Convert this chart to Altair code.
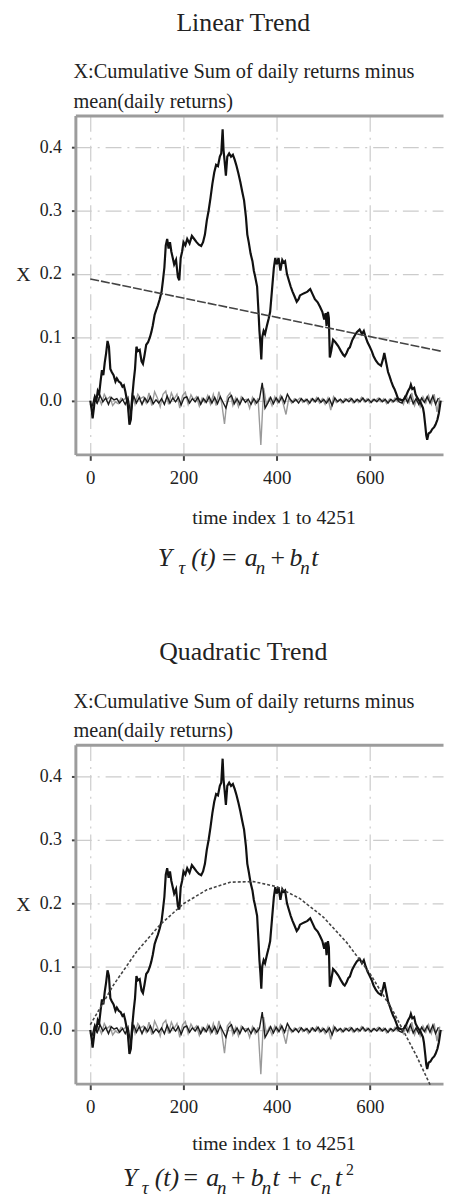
import altair as alt
import pandas as pd

# ---------------- data ----------------
main_points = [
    (0, 0.000), (3, -0.015), (5, -0.028), (8, -0.010), (10, 0.005), (13, 0.000),
    (16, 0.015), (19, 0.010), (22, 0.030), (25, 0.048), (28, 0.040), (31, 0.060),
    (34, 0.075), (37, 0.094), (40, 0.085), (43, 0.050), (46, 0.045), (50, 0.040),
    (54, 0.030), (57, 0.035), (61, 0.030), (65, 0.028), (69, 0.022), (72, 0.024),
    (75, 0.015), (78, 0.003), (81, -0.010), (84, -0.038), (87, -0.030), (90, 0.005),
    (93, 0.030), (96, 0.050), (99, 0.085), (102, 0.078), (106, 0.080), (110, 0.062),
    (113, 0.058), (116, 0.070), (120, 0.088), (124, 0.092), (128, 0.100), (131, 0.108),
    (134, 0.118), (138, 0.135), (141, 0.142), (145, 0.150), (149, 0.160), (153, 0.172),
    (156, 0.190), (159, 0.210), (162, 0.245), (165, 0.255), (168, 0.240), (171, 0.250),
    (174, 0.235), (177, 0.225), (180, 0.215), (184, 0.222), (188, 0.195), (191, 0.190),
    (194, 0.225), (197, 0.235), (200, 0.250), (204, 0.245), (208, 0.255), (213, 0.248),
    (218, 0.260), (223, 0.255), (228, 0.250), (233, 0.246), (238, 0.244), (242, 0.250),
    (246, 0.262), (250, 0.284), (254, 0.300), (258, 0.320), (262, 0.342), (266, 0.360),
    (270, 0.372), (274, 0.370), (278, 0.385), (281, 0.390), (284, 0.428), (286, 0.395),
    (288, 0.380), (291, 0.355), (294, 0.385), (298, 0.390), (302, 0.385), (306, 0.388),
    (310, 0.380), (314, 0.370), (318, 0.358), (322, 0.345), (326, 0.330), (330, 0.316),
    (334, 0.290), (337, 0.262), (340, 0.250), (344, 0.232), (348, 0.220), (351, 0.205),
    (354, 0.195), (358, 0.180), (361, 0.140), (363, 0.110), (365, 0.090), (367, 0.065),
    (369, 0.100), (372, 0.110), (375, 0.105), (379, 0.118), (383, 0.130), (386, 0.140),
    (390, 0.175), (394, 0.210), (397, 0.225), (400, 0.215), (404, 0.225), (408, 0.205),
    (412, 0.222), (415, 0.218), (418, 0.220), (422, 0.200), (426, 0.190), (430, 0.180),
    (434, 0.172), (438, 0.165), (443, 0.156), (447, 0.160), (450, 0.166), (455, 0.168),
    (461, 0.170), (466, 0.172), (472, 0.176), (477, 0.168), (482, 0.160), (488, 0.155),
    (493, 0.148), (498, 0.140), (502, 0.128), (505, 0.138), (507, 0.118), (510, 0.140),
    (512, 0.130), (514, 0.068), (517, 0.078), (521, 0.096), (526, 0.092), (532, 0.086),
    (538, 0.078), (543, 0.072), (546, 0.070), (550, 0.075), (554, 0.082), (557, 0.084),
    (562, 0.095), (567, 0.102), (572, 0.108), (578, 0.112), (583, 0.105), (587, 0.110),
    (591, 0.100), (595, 0.092), (599, 0.086), (604, 0.078), (608, 0.070), (613, 0.063),
    (618, 0.058), (624, 0.055), (628, 0.065), (631, 0.075), (635, 0.060), (639, 0.045),
    (642, 0.039), (646, 0.030), (650, 0.022), (653, 0.018), (657, 0.010), (660, 0.004),
    (663, 0.002), (667, 0.001), (670, 0.000), (674, 0.003), (678, 0.008), (682, 0.015),
    (686, 0.020), (688, 0.025), (691, 0.018), (695, 0.020), (698, 0.010), (702, 0.004),
    (706, 0.000), (710, -0.005), (714, -0.012), (716, -0.020), (719, -0.040), (721, -0.055),
    (723, -0.062), (726, -0.052), (730, -0.050), (734, -0.045), (738, -0.042), (741, -0.038),
    (745, -0.030), (748, -0.020), (752, 0.000),
]

# daily-return-like series near zero (grey, sampled every 6 index units)
noise_gray = [
    -0.005, -0.018, 0.008, 0.004, -0.006, 0.010, 0.002, 0.006, -0.008, -0.002,
    -0.005, 0.004, 0.001, 0.006, -0.030, 0.012, -0.006, 0.010, 0.003, 0.006,
    -0.004, 0.012, -0.008, 0.014, 0.004, -0.010, 0.010, 0.015, -0.006, 0.012,
    0.002, 0.010, -0.012, 0.008, 0.013, -0.006, 0.009, 0.001, 0.006, -0.009,
    0.004, -0.003, 0.008, -0.006, 0.010, -0.008, 0.014, -0.004, -0.037, 0.006,
    0.012, -0.008, 0.004, -0.010, 0.006, 0.001, 0.002, -0.012, 0.005, -0.006,
    0.004, -0.070, 0.020, -0.006, 0.004, -0.008, 0.006, -0.004, 0.008, -0.005,
    -0.022, 0.004, -0.004, 0.003, 0.000, 0.004, -0.003, 0.002, -0.006, 0.003,
    -0.002, 0.005, -0.004, 0.003, -0.006, 0.004, -0.015, 0.006, -0.003, 0.002,
    -0.004, 0.003, 0.001, 0.004, -0.004, 0.002, -0.003, 0.005, -0.002, 0.003,
    -0.004, 0.002, 0.000, 0.004, -0.002, 0.003, -0.005, 0.002, -0.003, 0.004,
    -0.002, 0.003, -0.006, 0.008, -0.004, 0.012, -0.008, 0.004, -0.010, 0.006,
    -0.004, 0.008, -0.006, 0.010, -0.018, 0.005,
]

# second near-zero series (black, sampled every 6 index units, offset 3)
noise_black = [
    -0.012, 0.006, -0.004, 0.008, -0.002, 0.004, -0.006, 0.005, 0.001, 0.003,
    -0.004, 0.002, -0.006, 0.004, -0.022, 0.008, -0.004, 0.005, -0.006, 0.004,
    -0.003, 0.006, -0.005, 0.001, -0.004, 0.003, -0.006, 0.007, -0.004, 0.004,
    -0.002, 0.005, -0.007, 0.004, 0.006, -0.004, 0.003, -0.002, 0.005, -0.006,
    0.003, -0.003, 0.006, -0.004, 0.005, -0.005, 0.006, -0.003, -0.012, 0.004,
    0.008, -0.005, 0.003, -0.006, 0.004, -0.003, 0.002, -0.006, 0.003, -0.004,
    0.002, 0.028, -0.012, -0.004, 0.005, -0.005, 0.004, -0.003, 0.006, -0.004,
    0.010, 0.002, -0.003, 0.002, -0.004, 0.003, -0.002, 0.002, -0.004, 0.003,
    -0.002, 0.004, -0.003, 0.002, -0.004, 0.003, -0.008, 0.004, -0.002, 0.002,
    -0.003, 0.002, -0.002, 0.003, -0.003, 0.002, -0.002, 0.004, -0.002, 0.002,
    -0.003, 0.002, -0.002, 0.003, -0.002, 0.002, -0.004, 0.002, -0.002, 0.003,
    -0.002, -0.004, 0.006, -0.003, 0.008, -0.005, 0.003, -0.006, 0.004, -0.003,
    0.006, -0.004, 0.007, -0.006, 0.004,
]

linear_t = [0, 752]
linear_y = [0.192, 0.078]

quad_t = [0, 50, 100, 150, 200, 250, 300, 350, 400, 450, 500, 550, 600, 650, 700, 730]
quad_y = [0.008, 0.071, 0.124, 0.166, 0.199, 0.221, 0.233, 0.234, 0.226, 0.207,
          0.178, 0.138, 0.089, 0.029, -0.041, -0.088]

x_ticks = [0, 200, 400, 600]
y_ticks = [0.0, 0.1, 0.2, 0.3, 0.4]

# ---------------- frames ----------------
main_df = pd.DataFrame(main_points, columns=["t", "v"])
gray_df = pd.DataFrame({"t": [6 * i for i in range(len(noise_gray))], "v": noise_gray})
black_df = pd.DataFrame({"t": [3 + 6 * i for i in range(len(noise_black))], "v": noise_black})
lin_df = pd.DataFrame({"t": linear_t, "v": linear_y})
quad_df = pd.DataFrame({"t": quad_t, "v": quad_y})

FONT = "Liberation Serif"
TXT = "#222222"
W, H = 371, 342
XSCALE = alt.Scale(domain=[-32, 757], nice=False, zero=False)
YSCALE = alt.Scale(domain=[-0.085, 0.45], nice=False, zero=False)


def x_bottom_axis(title_y):
    return alt.Axis(
        orient="bottom", values=x_ticks, title="time index 1 to 4251",
        titleX=200, titleY=title_y, titleAlign="center", titleBaseline="alphabetic",
        titleFont=FONT, titleFontSize=20, titleFontWeight="normal", titleColor=TXT,
        labelFont=FONT, labelFontSize=19, labelColor=TXT, labelPadding=8,
        tickSize=6, tickWidth=2, tickColor="#444444",
        domainColor="#9c9c9c", domainWidth=3,
        grid=True, gridColor="#cccccc", gridDash=[16, 6, 2, 6], gridWidth=1.2)


X_TOP = alt.Axis(
    orient="top", labels=False, ticks=False, grid=False, title=None,
    domainColor="#9c9c9c", domainWidth=3)
Y_LEFT = alt.Axis(
    orient="left", values=y_ticks, format=".1f", title="X", titleAngle=0,
    titleX=-53, titleY=161, titleAlign="center", titleBaseline="middle",
    titleFont=FONT, titleFontSize=20, titleFontWeight="normal", titleColor=TXT,
    labelFont=FONT, labelFontSize=18, labelColor=TXT, labelPadding=10,
    tickSize=4, tickWidth=2, tickColor="#444444",
    domainColor="#9c9c9c", domainWidth=3,
    grid=True, gridColor="#cccccc", gridDash=[16, 6, 2, 6], gridWidth=1.2)


def formula_layers(pieces, base):
    out = []
    for txt, px, kind in pieces:
        if kind == "sub":
            size, dy, style = 19, 8, "italic"
        elif kind == "sup":
            size, dy, style = 16, -11, "normal"
        elif kind == "op":
            size, dy, style = 26, 0, "normal"
        else:
            size, dy, style = 26, 0, "italic"
        out.append(
            alt.Chart(pd.DataFrame({"s": [txt]}))
            .mark_text(font=FONT, fontSize=size, fontStyle=style, align="left",
                       baseline="alphabetic", color=TXT)
            .encode(text="s:N", x=alt.value(px), y=alt.value(base + dy))
        )
    return out


def panel(title, trend_df, dash, pieces, fbase, xt_y):
    xb = alt.X("t:Q", scale=XSCALE, axis=x_bottom_axis(xt_y))
    xn = alt.X("t:Q", scale=XSCALE, axis=None)
    xt = alt.X("t:Q", scale=XSCALE, axis=X_TOP)
    yl = alt.Y("v:Q", scale=YSCALE, axis=Y_LEFT)

    gray = alt.Chart(gray_df).mark_line(color="#9a9a9a", strokeWidth=1.4).encode(x=xb, y=yl)
    black = alt.Chart(black_df).mark_line(color="#1a1a1a", strokeWidth=1.4).encode(x=xn, y=yl)
    main = alt.Chart(main_df).mark_line(color="#111111", strokeWidth=2.2).encode(x=xn, y=yl)
    trend = alt.Chart(trend_df).mark_line(color="#444444", strokeWidth=1.6,
                                          strokeDash=dash).encode(x=xt, y=yl)
    inner = alt.layer(gray, black, main, trend, *formula_layers(pieces, fbase)).resolve_axis(
        x="independent").properties(
        width=W, height=H,
        title=alt.Title(["X:Cumulative Sum of daily returns minus", "mean(daily returns)"],
                        anchor="start", frame="group", font=FONT, fontSize=20.5,
                        fontWeight="normal", color=TXT, lineHeight=30, offset=3, dx=-2),
    )
    return alt.vconcat(inner, title=alt.Title(title, anchor="middle", font=FONT, fontSize=26,
                                             fontWeight="normal", color=TXT, offset=27, dx=13))


pieces1 = [("Y", 83, "m"), ("τ", 104, "sub"), ("(t)", 117, "m"), ("=", 148, "op"),
           ("a", 171, "m"), ("n", 182, "sub"), ("+", 197, "op"), ("b", 216, "m"),
           ("n", 227, "sub"), ("t", 238, "m")]
pieces2 = [("Y", 48, "m"), ("τ", 67, "sub"), ("(t)", 80, "m"), ("=", 109, "op"),
           ("a", 132, "m"), ("n", 143, "sub"), ("+", 157, "op"), ("b", 177, "m"),
           ("n", 188, "sub"), ("t", 199, "m"), ("+", 214, "op"), ("c", 237, "m"),
           ("n", 248, "sub"), ("t", 262, "m"), ("2", 273, "sup")]

p1 = panel("Linear Trend", lin_df, [9, 2], pieces1, 455, 70)
p2 = panel("Quadratic Trend", quad_df, [3, 2], pieces2, 445, 66)

chart = alt.vconcat(p1, p2, spacing=61).properties(
    padding={"left": 7, "top": -4, "right": 0, "bottom": 2}
).configure_view(stroke=None)

chart.save("out.html", embed_options={"renderer": "svg", "actions": False})
